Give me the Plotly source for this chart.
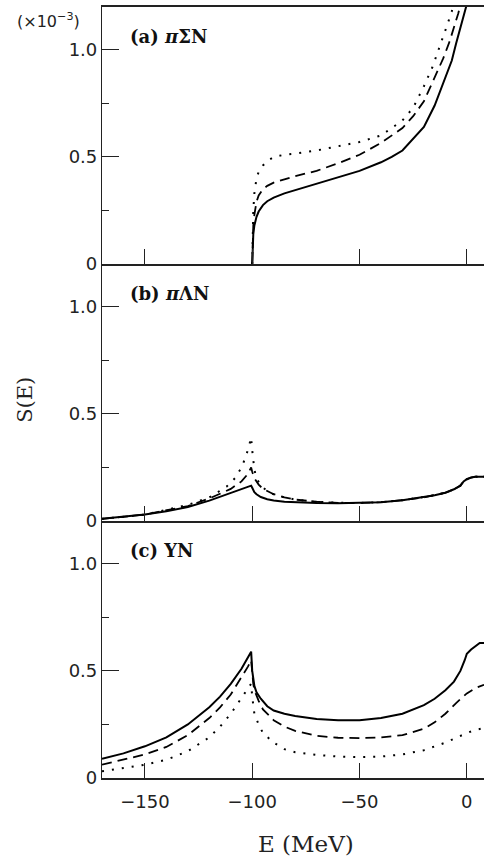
import plotly.graph_objects as go
from plotly.subplots import make_subplots

# ---------------- data (S(E) in units of 1e-3) ----------------
# (a) pi Sigma N
a_solid_E = [-100, -99.9, -99.5, -99, -98, -97, -95, -93, -90, -85, -80, -70, -60, -50, -40, -35, -30, -25, -20, -15, -10, -7, -5, -3, -1.5, 0, 1]
a_solid_S = [0, 0.08, 0.14, 0.18, 0.22, 0.245, 0.275, 0.293, 0.31, 0.33, 0.345, 0.375, 0.405, 0.435, 0.475, 0.50, 0.53, 0.585, 0.64, 0.74, 0.87, 0.95, 1.03, 1.10, 1.15, 1.20, 1.25]
a_dash_E = [-100, -99.8, -99.5, -99, -98, -97, -95, -93, -90, -85, -80, -70, -60, -50, -40, -30, -25, -20, -15, -11, -8, -6, -4, -2]
a_dash_S = [0, 0.12, 0.18, 0.23, 0.29, 0.32, 0.35, 0.365, 0.38, 0.395, 0.41, 0.435, 0.47, 0.51, 0.565, 0.635, 0.69, 0.76, 0.87, 0.96, 1.04, 1.10, 1.17, 1.25]
a_dot_E = [-100, -99.8, -99.5, -99, -98, -97, -95, -93, -90, -85, -80, -70, -60, -50, -40, -30, -25, -20, -16, -12, -9, -7, -5]
a_dot_S = [0, 0.15, 0.25, 0.33, 0.40, 0.43, 0.46, 0.48, 0.50, 0.51, 0.515, 0.53, 0.55, 0.57, 0.60, 0.67, 0.73, 0.83, 0.92, 1.03, 1.12, 1.18, 1.25]

# (b) pi Lambda N
b_common_E = [-50, -40, -30, -20, -15, -10, -6, -3, -1.5, 0, 2, 4, 8]
b_common_S = [0.084, 0.088, 0.097, 0.11, 0.12, 0.132, 0.148, 0.165, 0.185, 0.195, 0.203, 0.207, 0.207]
b_solid_E = [-170, -160, -150, -140, -130, -120, -110, -105, -100.5, -100, -99, -98, -96, -93, -90, -85, -80, -70, -60] + b_common_E
b_solid_S = [0.01, 0.02, 0.03, 0.045, 0.065, 0.095, 0.13, 0.15, 0.165, 0.155, 0.135, 0.125, 0.112, 0.102, 0.096, 0.09, 0.087, 0.084, 0.083] + b_common_S
b_dash_E = [-170, -150, -130, -120, -110, -105, -102, -100.5, -100, -99, -97, -95, -90, -85, -80, -70, -60] + b_common_E
b_dash_S = [0.01, 0.03, 0.07, 0.105, 0.15, 0.185, 0.22, 0.25, 0.23, 0.20, 0.17, 0.15, 0.125, 0.11, 0.10, 0.09, 0.085] + b_common_S
b_dot_E = [-170, -150, -130, -120, -112, -108, -105, -103, -101.5, -100.5, -100, -99.5, -99, -98, -96, -93, -90, -85, -80, -70, -60] + b_common_E
b_dot_S = [0.01, 0.03, 0.075, 0.11, 0.16, 0.20, 0.25, 0.30, 0.35, 0.39, 0.33, 0.28, 0.24, 0.20, 0.165, 0.14, 0.125, 0.11, 0.10, 0.09, 0.085] + b_common_S

# (c) YN
c_solid_E = [-170, -160, -150, -140, -130, -120, -115, -110, -105, -102, -100.5, -100, -99.5, -99, -98, -96, -93, -90, -85, -80, -70, -60, -50, -40, -30, -20, -15, -10, -6, -3, -1, 0, 2, 4, 6, 8]
c_solid_S = [0.09, 0.115, 0.148, 0.19, 0.25, 0.33, 0.38, 0.44, 0.51, 0.56, 0.59, 0.50, 0.46, 0.43, 0.40, 0.37, 0.335, 0.315, 0.30, 0.29, 0.275, 0.27, 0.27, 0.28, 0.30, 0.34, 0.37, 0.41, 0.45, 0.50, 0.55, 0.58, 0.60, 0.615, 0.63, 0.63]
c_dash_E = [-170, -160, -150, -140, -130, -120, -115, -110, -105, -102, -100.5, -100, -99.5, -99, -97, -95, -90, -85, -80, -70, -60, -50, -40, -30, -20, -15, -10, -5, -2, 0, 4, 8]
c_dash_S = [0.062, 0.085, 0.11, 0.145, 0.20, 0.28, 0.33, 0.39, 0.47, 0.52, 0.55, 0.48, 0.44, 0.41, 0.36, 0.32, 0.27, 0.24, 0.22, 0.197, 0.188, 0.186, 0.19, 0.20, 0.23, 0.26, 0.30, 0.35, 0.38, 0.395, 0.42, 0.435]
c_dot_E = [-170, -160, -150, -140, -130, -120, -115, -110, -105, -102, -100.5, -100, -99.5, -99, -97, -95, -90, -85, -80, -70, -60, -50, -40, -30, -20, -10, 0, 4, 8]
c_dot_S = [0.031, 0.045, 0.062, 0.085, 0.125, 0.19, 0.24, 0.30, 0.375, 0.42, 0.44, 0.38, 0.34, 0.30, 0.25, 0.21, 0.165, 0.135, 0.12, 0.108, 0.10, 0.098, 0.10, 0.11, 0.13, 0.165, 0.21, 0.225, 0.233]

panel_labels = ["(a) <i>π</i>ΣN", "(b) <i>π</i>ΛN", "(c) YN"]
x_ticks = [-150, -100, -50, 0]
x_ticklabels = ["−150", "−100", "−50", "0"]
y_ticks = [0, 0.5, 1.0]
y_ticklabels = ["0", "0.5", "1.0"]

panels = [
    [(a_solid_E, a_solid_S), (a_dash_E, a_dash_S), (a_dot_E, a_dot_S)],
    [(b_solid_E, b_solid_S), (b_dash_E, b_dash_S), (b_dot_E, b_dot_S)],
    [(c_solid_E, c_solid_S), (c_dash_E, c_dash_S), (c_dot_E, c_dot_S)],
]
styles = [
    dict(color="black", width=2, dash="solid"),
    dict(color="black", width=1.8, dash="10px,6px"),
    dict(color="black", width=2, dash="2px,8px"),
]

fig = make_subplots(rows=3, cols=1, shared_xaxes=True, vertical_spacing=0)

for r, curves in enumerate(panels, start=1):
    for (E, S), st in zip(curves, styles):
        fig.add_trace(go.Scatter(x=E, y=S, mode="lines", line=st, showlegend=False,
                                 hoverinfo="skip"), row=r, col=1)

tick_font = dict(family="DejaVu Sans", size=18, color="#222")
for r in range(1, 4):
    fig.update_xaxes(row=r, col=1, range=[-170, 8], showgrid=False, zeroline=False,
                     automargin=False,
                     showline=True, linecolor="#222", linewidth=2, mirror=(r == 1),
                     ticks="inside", ticklen=15, tickwidth=1, tickcolor="#222",
                     tickvals=x_ticks, ticktext=x_ticklabels,
                     showticklabels=(r == 3), tickfont=tick_font)
    fig.update_yaxes(row=r, col=1, range=[0, 1.2], showgrid=False, zeroline=False,
                     automargin=False,
                     showline=True, linecolor="#222", linewidth=1.2,
                     ticks="inside", ticklen=17, tickwidth=1, tickcolor="#222",
                     tickvals=y_ticks, ticktext=y_ticklabels, tickfont=tick_font,
                     minor=dict(tickvals=[0.25, 0.75], ticks="inside", ticklen=7,
                                tickwidth=1, tickcolor="#222"))

fig.update_xaxes(row=3, col=1, ticklabelstandoff=6)

for r, lab in enumerate(panel_labels, start=1):
    yref = "y domain" if r == 1 else f"y{r} domain"
    xref = "x domain" if r == 1 else f"x{r} domain"
    fig.add_annotation(text=f"<b>{lab}</b>", xref=xref, yref=yref, x=0.068, y=0.885,
                       xanchor="left", yanchor="middle", showarrow=False,
                       font=dict(family="DejaVu Serif", size=18, color="#111"))

fig.add_annotation(text="(×10<sup>−3</sup>)", xref="paper", yref="paper",
                   x=-0.14, y=0.982, xanchor="center", yanchor="middle", showarrow=False,
                   font=dict(family="DejaVu Sans", size=16, color="#222"))
fig.add_annotation(text="S(E)", xref="paper", yref="paper", x=-0.2, y=0.49,
                   xanchor="center", yanchor="middle", textangle=-90, showarrow=False,
                   font=dict(family="DejaVu Serif", size=21, color="#222"))
fig.add_annotation(text="E (MeV)", xref="paper", yref="paper", x=0.535, y=-0.085,
                   xanchor="center", yanchor="middle", showarrow=False,
                   font=dict(family="DejaVu Serif", size=23, color="#222"))

fig.update_layout(width=484, height=858, margin=dict(l=102, r=0, t=7, b=80),
                  plot_bgcolor="white", paper_bgcolor="white")

fig.write_html("out.html", config={"displayModeBar": False},
               post_script="document.body.style.margin='0';document.body.style.overflow='hidden';")
